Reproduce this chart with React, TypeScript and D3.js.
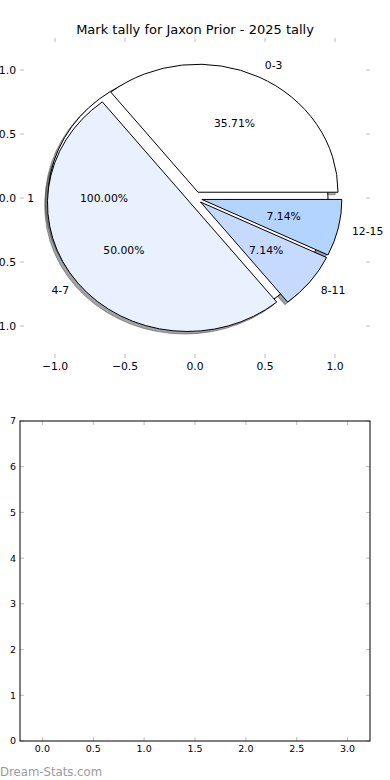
import React from 'react';
import * as d3 from 'd3';

// slice data
const sliceLabels = ['0-3', '4-7', '8-11', '12-15'];
const sliceValues = [5, 7, 1, 1];
const sliceColors = ['#ffffff', '#eaf1fe', '#c6d9fe', '#b3d4ff'];

// the single "1" pie drawn underneath
const baseLabels = ['1'];
const baseValues = [1];
const baseColors = ['#ffffff'];

const pieTicks = [-1, -0.5, 0, 0.5, 1];
const barXTicks = [0, 0.5, 1, 1.5, 2, 2.5, 3];
const barYTicks = [0, 1, 2, 3, 4, 5, 6, 7];

const W = 390;
const H = 780;
const FONT = 'DejaVu Sans, sans-serif';
const TICK = '#bdbdbd';
const EXPLODE = 0.05;

const fmtTick = (v: number) => d3.format('.1f')(v).replace('-', '\u2212');

const App = () => {
  // top (pie) axes
  const x = d3.scaleLinear().domain([-1.25, 1.25]).range([20, 370]);
  const y = d3.scaleLinear().domain([-1.25, 1.25]).range([358, 38]);
  const cx = x(0);
  const cy = y(0);
  const rx = x(1) - x(0);
  const ry = y(0) - y(1);

  // bottom axes
  const bx = d3.scaleLinear().domain([-0.22, 3.22]).range([20, 370]);
  const by = d3.scaleLinear().domain([0, 7]).range([741, 421]);

  // matplotlib goes counter-clockwise from 3 o'clock
  const pie = d3.pie<number>().sort(null).startAngle(Math.PI / 2).endAngle(Math.PI / 2 - 2 * Math.PI);
  const arc = d3.arc<d3.PieArcDatum<number>>().innerRadius(0).outerRadius(1);

  const build = (values: number[], labels: string[], colors: string[]) => {
    const total = d3.sum(values);
    return pie(values).map((d, i) => {
      const m = (d.startAngle + d.endAngle) / 2;
      const ux = Math.sin(m);
      const uy = Math.cos(m); // data-up
      const ox = cx + EXPLODE * ux * rx;
      const oy = cy - EXPLODE * uy * ry;
      return {
        d,
        label: labels[i],
        color: colors[i],
        pct: d3.format('.2f')((values[i] / total) * 100) + '%',
        ox,
        oy,
        lx: ox + 1.1 * ux * rx,
        ly: oy - 1.1 * uy * ry,
        px: ox + 0.6 * ux * rx,
        py: oy - 0.6 * uy * ry,
        right: ux > 0,
      };
    });
  };

  const wedges = [...build(baseValues, baseLabels, baseColors), ...build(sliceValues, sliceLabels, sliceColors)];

  const shadeOf = (c: string) => {
    const r = d3.rgb(c);
    return d3.rgb(r.r * 0.3, r.g * 0.3, r.b * 0.3).formatHex();
  };
  const sdx = -0.02 * rx;
  const sdy = 0.02 * ry;

  return (
    <svg width={W} height={H} style={{ position: 'absolute', left: 0, top: 0, background: '#fff' }}>
      <style>{'body{margin:0}'}</style>
      <text x={195} y={34} textAnchor="middle" fontFamily={FONT} fontSize={13} fill="#000">
        Mark tally for Jaxon Prior - 2025 tally
      </text>

      {/* pie axes ticks, frame hidden */}
      <g stroke={TICK} strokeWidth={1}>
        {pieTicks.map(t => (
          <g key={'pt' + t}>
            <line x1={x(t)} x2={x(t)} y1={38} y2={42} />
            <line x1={x(t)} x2={x(t)} y1={358} y2={354} />
            <line x1={20} x2={24} y1={y(t)} y2={y(t)} />
            <line x1={370} x2={366} y1={y(t)} y2={y(t)} />
          </g>
        ))}
      </g>
      <g fontFamily={FONT} fontSize={10.8} fill="#000">
        {pieTicks.map(t => (
          <text key={'px' + t} x={x(t)} y={369.5} textAnchor="middle">{fmtTick(t)}</text>
        ))}
        {pieTicks.map(t => (
          <text key={'py' + t} x={16} y={y(t)} dy="0.36em" textAnchor="end">{fmtTick(t)}</text>
        ))}
      </g>

      {/* shadows */}
      {wedges.map((w, i) => (
        <path
          key={'s' + i}
          d={arc(w.d) || ''}
          transform={`translate(${w.ox + sdx},${w.oy + sdy}) scale(${rx},${ry})`}
          fill={shadeOf(w.color)}
          fillOpacity={0.5}
          stroke={shadeOf(w.color)}
          strokeOpacity={0.5}
          strokeWidth={1}
          vectorEffect="non-scaling-stroke"
        />
      ))}
      {/* wedges */}
      {wedges.map((w, i) => (
        <path
          key={'w' + i}
          d={arc(w.d) || ''}
          transform={`translate(${w.ox},${w.oy}) scale(${rx},${ry})`}
          fill={w.color}
          stroke="#000"
          strokeWidth={1}
          vectorEffect="non-scaling-stroke"
        />
      ))}
      <g fontFamily={FONT} fontSize={10.8} fill="#000">
        {wedges.map((w, i) => (
          <text key={'l' + i} x={w.lx} y={w.ly} dy="0.36em" textAnchor={w.right ? 'start' : 'end'}>{w.label}</text>
        ))}
        {wedges.map((w, i) => (
          <text key={'p' + i} x={w.px} y={w.py} dy="0.36em" textAnchor="middle">{w.pct}</text>
        ))}
      </g>

      {/* empty bottom axes */}
      <g stroke={TICK} strokeWidth={1}>
        {barXTicks.map(t => (
          <g key={'bt' + t}>
            <line x1={bx(t)} x2={bx(t)} y1={421} y2={425} />
            <line x1={bx(t)} x2={bx(t)} y1={741} y2={737} />
          </g>
        ))}
        {barYTicks.map(t => (
          <g key={'bv' + t}>
            <line x1={20} x2={24} y1={by(t)} y2={by(t)} />
            <line x1={370} x2={366} y1={by(t)} y2={by(t)} />
          </g>
        ))}
      </g>
      <rect x={20} y={421} width={350} height={320} fill="none" stroke="#000" strokeWidth={1} />
      <g fontFamily={FONT} fontSize={9.5} fill="#000">
        {barXTicks.map(t => (
          <text key={'bx' + t} x={bx(t)} y={752} textAnchor="middle">{d3.format('.1f')(t)}</text>
        ))}
        {barYTicks.map(t => (
          <text key={'by' + t} x={16} y={by(t)} dy="0.36em" textAnchor="end">{t}</text>
        ))}
      </g>

      <text x={0} y={776} fontFamily={FONT} fontSize={11.7} fill="#9a9a9a">Dream-Stats.com</text>
    </svg>
  );
};

export default App;
